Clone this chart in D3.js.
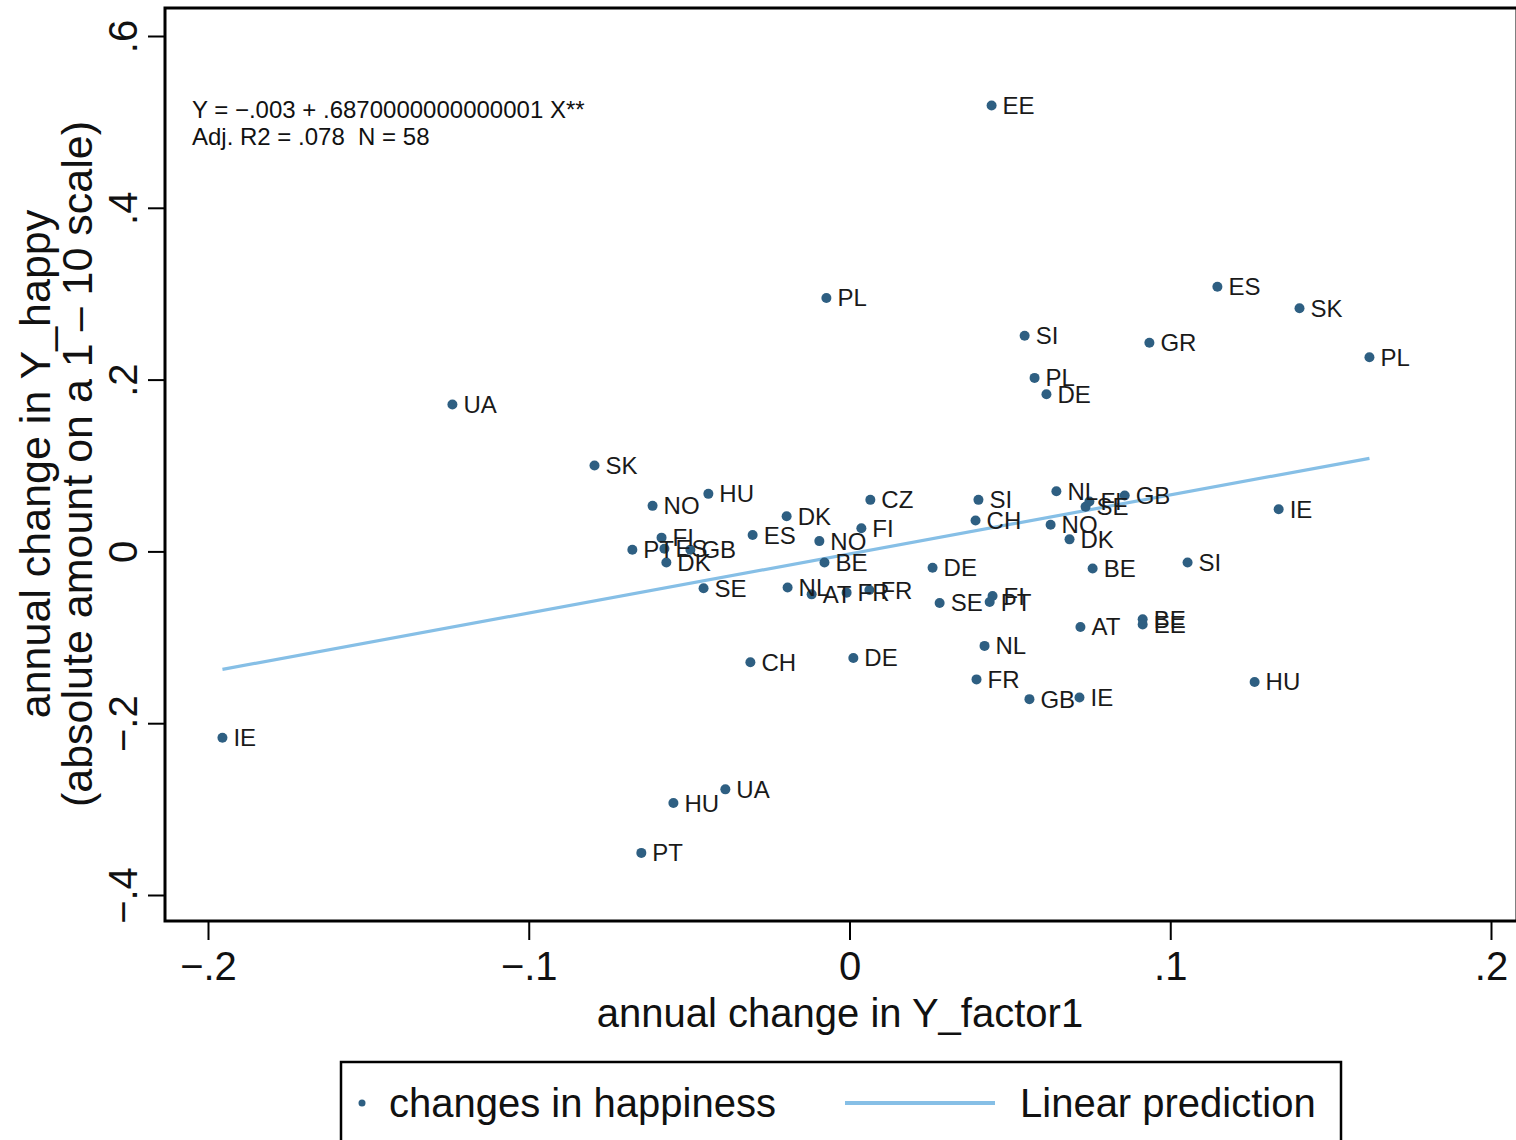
<!DOCTYPE html>
<html>
<head>
<meta charset="utf-8">
<script src="https://cdn.jsdelivr.net/npm/d3@7"></script>
<style>
  html, body { margin: 0; padding: 0; background: #fff; }
  svg { display: block; }
  text { font-family: "Liberation Sans", Arial, Helvetica, sans-serif; fill: #111; white-space: pre; }
</style>
</head>
<body>
<svg id="chart" width="1516" height="1140"></svg>
<script>
// ---- data ----
const countries = ["EE","PL","ES","SK","SI","GR","PL","PL","DE","UA",
                   "SK","NO","HU","DK","CZ","FI","ES","NO","BE","PT",
                   "FI","ES","GB","DK","SE","NL","AT","FR","FR","DE",
                   "SE","FI","PT","NL","FR","GB","IE","CH","DE","AT",
                   "BE","EE","HU","SI","IE","BE","DK","NO","NL","SE",
                   "FI","GB","SI","CH","IE","HU","UA","PT"];
const factorChange = [0.0443,-0.0072,0.1147,0.1403,0.0546,0.0935,0.1621,0.0577,0.0614,-0.1238,
                      -0.0795,-0.0614,-0.0440,-0.0196,0.0065,0.0037,-0.0302,-0.0094,-0.0078,-0.0677,
                      -0.0586,-0.0577,-0.0496,-0.0571,-0.0455,-0.0193,-0.0118,-0.0009,0.0062,0.0259,
                      0.0281,0.0446,0.0437,0.0421,0.0396,0.0561,0.0717,-0.0309,0.0012,0.0720,
                      0.0914,0.0914,0.1263,0.1054,0.1338,0.0758,0.0686,0.0627,0.0645,0.0736,
                      0.0748,0.0858,0.0402,0.0393,-0.1955,-0.0549,-0.0387,-0.0649];
const happyChange = [0.519,0.295,0.308,0.283,0.251,0.243,0.226,0.202,0.183,0.171,
                     0.100,0.053,0.067,0.041,0.060,0.027,0.019,0.012,-0.013,0.002,
                     0.016,0.003,0.002,-0.013,-0.043,-0.042,-0.050,-0.048,-0.045,-0.019,
                     -0.060,-0.052,-0.059,-0.110,-0.149,-0.172,-0.170,-0.129,-0.124,-0.088,
                     -0.079,-0.085,-0.152,-0.013,0.049,-0.020,0.014,0.031,0.070,0.052,
                     0.058,0.065,0.060,0.036,-0.217,-0.293,-0.277,-0.351];
const fitIntercept = -0.003;
const fitSlope = 0.687;
const xTicks = [-0.2,-0.1,0,0.1,0.2];
const xTickLabels = ["\u2212.2","\u2212.1","0",".1",".2"];
const yTicks = [-0.4,-0.2,0,0.2,0.4,0.6];
const yTickLabels = ["\u2212.4","\u2212.2","0",".2",".4",".6"];
const noteLines = ["Y = \u2212.003 + .6870000000000001 X**", "Adj. R2 = .078  N = 58"];
const xTitle = "annual change in Y_factor1";
const yTitleLines = ["annual change in Y_happy", "(absolute amount on a 1 \u2013 10 scale)"];
const legendLabels = ["changes in happiness", "Linear prediction"];

// ---- layout ----
const svg = d3.select("#chart");
const frame = {left: 165, top: 8, right: 1517, bottom: 921};
const x = d3.scaleLinear().domain([-0.2, 0.2]).range([208, 1491]);
const y = d3.scaleLinear().domain([-0.4, 0.6]).range([895, 36]);
const markerColor = "#2e5f82";
const lineColor = "#86bfe6";

// fit line
const xMin = d3.min(factorChange), xMax = d3.max(factorChange);
svg.append("line")
  .attr("x1", x(xMin)).attr("y1", y(fitIntercept + fitSlope * xMin))
  .attr("x2", x(xMax)).attr("y2", y(fitIntercept + fitSlope * xMax))
  .attr("stroke", lineColor).attr("stroke-width", 3.2);

// points
const pts = countries.map((c, i) => ({c, x: factorChange[i], y: happyChange[i]}));
svg.append("g").selectAll("circle").data(pts).join("circle")
  .attr("cx", d => x(d.x)).attr("cy", d => y(d.y)).attr("r", 5)
  .attr("fill", markerColor);
svg.append("g").selectAll("text").data(pts).join("text")
  .attr("x", d => x(d.x) + 11).attr("y", d => y(d.y) + 8.5)
  .attr("font-size", 24).style("fill", "#1a1a1a")
  .text(d => d.c);

// frame
svg.append("rect")
  .attr("x", frame.left).attr("y", frame.top)
  .attr("width", frame.right - frame.left).attr("height", frame.bottom - frame.top)
  .attr("fill", "none").attr("stroke", "#000").attr("stroke-width", 3);

// x axis
const xAxis = svg.append("g").attr("transform", `translate(0,${frame.bottom})`)
  .call(d3.axisBottom(x).tickValues(xTicks).tickSize(19).tickSizeOuter(0)
        .tickFormat((d, i) => xTickLabels[i]));
xAxis.select(".domain").remove();
xAxis.selectAll(".tick line").attr("stroke", "#000").attr("stroke-width", 2);
xAxis.selectAll(".tick text").attr("y", 59).attr("dy", 0)
  .attr("font-size", 40).attr("font-family", "Liberation Sans, Arial, sans-serif").style("fill", "#111");

// y axis
const yAxis = svg.append("g").attr("transform", `translate(${frame.left},0)`)
  .call(d3.axisLeft(y).tickValues(yTicks).tickSize(17).tickSizeOuter(0)
        .tickFormat((d, i) => yTickLabels[i]));
yAxis.select(".domain").remove();
yAxis.selectAll(".tick line").attr("stroke", "#000").attr("stroke-width", 2);
yAxis.selectAll(".tick text")
  .attr("x", null).attr("dy", null)
  .attr("transform", "translate(-28,0) rotate(-90)")
  .attr("text-anchor", "middle").attr("y", 0)
  .attr("font-size", 40).attr("font-family", "Liberation Sans, Arial, sans-serif").style("fill", "#111");

// titles
svg.append("text").attr("x", 840).attr("y", 1027).attr("text-anchor", "middle")
  .attr("font-size", 40).text(xTitle);
const cy = 464;
[50, 92].forEach((bx, i) => {
  svg.append("text").attr("transform", `translate(${bx},${cy}) rotate(-90)`)
    .attr("text-anchor", "middle").attr("font-size", 43).text(yTitleLines[i]);
});

// note
noteLines.forEach((t, i) => {
  svg.append("text").attr("x", 192).attr("y", 118 + i * 27).attr("font-size", 24).text(t);
});

// legend
svg.append("rect").attr("x", 341).attr("y", 1062).attr("width", 1000).attr("height", 100)
  .attr("fill", "#fff").attr("stroke", "#000").attr("stroke-width", 2.5);
svg.append("circle").attr("cx", 362).attr("cy", 1103).attr("r", 3.5).attr("fill", markerColor);
svg.append("text").attr("x", 389).attr("y", 1117).attr("font-size", 40).text(legendLabels[0]);
svg.append("line").attr("x1", 845).attr("x2", 995).attr("y1", 1103).attr("y2", 1103)
  .attr("stroke", lineColor).attr("stroke-width", 4);
svg.append("text").attr("x", 1020).attr("y", 1117).attr("font-size", 40).text(legendLabels[1]);
</script>
</body>
</html>
